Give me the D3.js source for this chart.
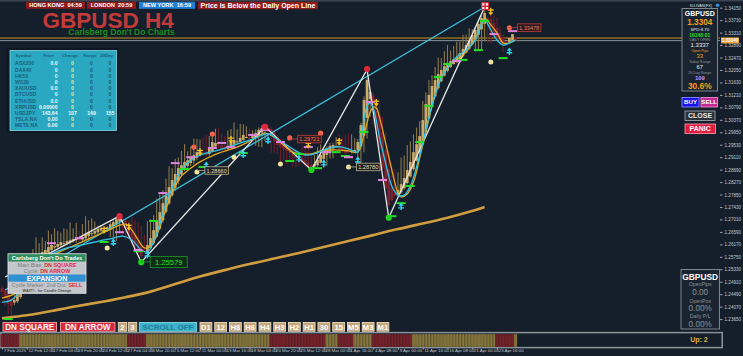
<!DOCTYPE html>
<html><head><meta charset="utf-8">
<script src="https://cdn.jsdelivr.net/npm/d3@7/dist/d3.min.js"></script>
<style>
html,body{margin:0;padding:0;background:#151f2b;overflow:hidden}
svg{display:block}
text{font-family:"Liberation Sans",Arial,sans-serif}
</style></head>
<body><svg id="chart" width="743" height="356"></svg>
<script>
// ---------------- DATA ----------------
const firstOpen = 1.2470;
const closes = [1.2456,1.2436,1.2416,1.2409,1.2429,1.2453,1.2480,1.2503,1.2524,1.2540,
1.2557,1.2571,1.2581,1.2591,1.2598,1.2608,1.2615,1.2611,1.2618,1.2625,
1.2621,1.2628,1.2631,1.2635,1.2638,1.2631,1.2642,1.2652,1.2658,1.2655,
1.2662,1.2669,1.2672,1.2665,1.2675,1.2685,1.2692,1.2702,1.2709,1.2692,
1.2672,1.2652,1.2631,1.2611,1.2591,1.2578,1.2594,1.2615,1.2638,1.2665,
1.2696,1.2726,1.2756,1.2783,1.2810,1.2834,1.2854,1.2874,1.2884,1.2895,
1.2901,1.2908,1.2918,1.2928,1.2935,1.2925,1.2918,1.2942,1.2962,1.2959,
1.2949,1.2938,1.2935,1.2949,1.2962,1.2969,1.2965,1.2976,1.2986,1.2979,
1.2972,1.2982,1.2992,1.3003,1.3009,1.3016,1.3003,1.2982,1.2965,1.2952,
1.2945,1.2938,1.2932,1.2925,1.2915,1.2908,1.2901,1.2895,1.2884,1.2878,
1.2874,1.2888,1.2901,1.2918,1.2932,1.2942,1.2949,1.2952,1.2949,1.2938,
1.2932,1.2925,1.2928,1.2932,1.2935,1.2962,1.3019,1.3104,1.3171,1.3131,
1.3070,1.3009,1.2942,1.2874,1.2807,1.2750,1.2766,1.2780,1.2800,1.2820,
1.2841,1.2868,1.2895,1.2928,1.2955,1.2982,1.3036,1.3090,1.3121,1.3151,
1.3171,1.3191,1.3205,1.3218,1.3229,1.3235,1.3242,1.3249,1.3262,1.3276,
1.3289,1.3306,1.3323,1.3340,1.3360,1.3380,1.3397,1.3374,1.3350,1.3330,
1.3313,1.3299,1.3289,1.3296,1.3313,1.3326,1.3304];
// wick lengths in pips beyond the body
const wickUp = [8,6,4,6,
16,30,40,50,60,36,44,70,40,50,30,56,36,60,44,32,50,40,60,36,52,28,44,60,40,50,32,12,10,8,4,
10,6,8,4,6,8,12,
40,50,60,70,56,80,64,50,76,60,44,56,70,40,52,36,48,60,30,40,56,44,36,50,60,40,32,48,56,40,36,52,44,60,40,48,36,36,30,20,
12,8,10,6,12,8,10,6,8,12,10,6,8,10,6,
36,44,50,40,30,44,36,
8,6,10,8,
30,40,36,50,60,56,40,
10,8,12,6,10,8,12,
40,50,60,56,70,80,60,90,76,84,70,60,56,50,64,40,50,36,44,56,40,50,60,36,44,52,40,48,36,40,20,
8,6,10,8,6,10,
30,36,24,
10];
const wickDn = [20,28,34,30,
9,6,5,8,3,6,9,5,8,12,6,5,9,8,6,5,10,6,8,5,9,6,5,8,12,6,5,8,6,5,8,
30,44,56,40,50,40,18,
5,4,6,3,5,4,3,6,5,4,8,5,6,4,10,12,5,4,6,10,12,8,5,4,3,6,5,4,8,10,6,4,5,3,6,4,5,3,4,5,
30,40,50,36,44,56,40,30,48,36,44,32,40,30,18,
5,4,6,3,4,5,3,
30,36,24,32,
4,3,5,4,3,5,6,
50,60,56,70,60,50,35,
5,4,6,3,5,4,3,6,5,4,3,5,4,6,3,5,4,3,6,5,4,3,5,4,3,6,5,4,3,5,4,
40,50,70,60,80,56,
6,5,8,
24];

const slowIdx = [0,8,16,24,32,40,48,56,64,72,80,88,96,104,112,120,128,136,144,152,156];
const slowVal = [1.2368,1.2377,1.2392,1.2409,1.2422,1.2439,1.2456,1.2483,1.2510,1.2530,1.2551,1.2569,1.2588,1.2608,1.2628,1.2648,1.2669,1.2687,1.2706,1.2729,1.2743];

const cyanIdx = [0,3,6,9,12,15,18,21,24,27,30,33,36,39,42,45,47,49,51,53,55,57,59,62,66,70,73,76,79,82,85,87,89,92,95,98,101,104,107,110,113,115,116,117,118,119,120,122,124,126,128,130,132,134,136,138,140,142,144,147,150,153,155,156,158,160,162,164,166];
const cyanVal = [1.2422,1.2429,1.2463,1.2513,1.2551,1.2578,1.2594,1.2605,1.2611,1.2618,1.2625,1.2632,1.2638,1.2645,1.2632,1.2598,1.2591,1.2625,1.2685,1.2756,1.2807,1.2851,1.2881,1.2908,1.2925,1.2935,1.2945,1.2955,1.2965,1.2976,1.2989,1.2986,1.2972,1.2952,1.2932,1.2918,1.2922,1.2935,1.2945,1.2945,1.2935,1.2928,1.2969,1.3036,1.3084,1.3094,1.3077,1.2979,1.2891,1.2814,1.2783,1.2783,1.2814,1.2878,1.2959,1.3046,1.3121,1.3178,1.3212,1.3249,1.3272,1.3306,1.3360,1.3374,1.3340,1.3306,1.3289,1.3296,1.3306];

const yellowIdx = [0,5,10,15,20,25,30,34,38,40,42,44,46,48,50,52,54,56,58,61,64,67,70,73,76,79,82,85,88,91,94,97,100,103,106,109,112,115,117,119,120,121,122,124,126,128,129,131,133,135,137,139,141,143,146,149,152,154,156,158,160,162,164,166];
const yellowVal = [1.2436,1.2456,1.2524,1.2571,1.2598,1.2621,1.2645,1.2662,1.2682,1.2685,1.2665,1.2632,1.2605,1.2611,1.2648,1.2706,1.2766,1.2814,1.2847,1.2874,1.2895,1.2911,1.2925,1.2935,1.2945,1.2959,1.2976,1.2992,1.2979,1.2952,1.2928,1.2922,1.2922,1.2932,1.2935,1.2935,1.2932,1.2928,1.2986,1.3063,1.3080,1.3077,1.3046,1.2959,1.2868,1.2790,1.2777,1.2787,1.2827,1.2908,1.2996,1.3083,1.3154,1.3198,1.3232,1.3255,1.3293,1.3330,1.3380,1.3357,1.3330,1.3296,1.3296,1.3306];

const zigIdx = [1,38,45,85,100,118,125,156];
const zigVal = [1.2507,1.2713,1.2557,1.3014,1.2868,1.3207,1.2707,1.3417];
const trendIdx = [1,156];
const trendVal = [1.2463,1.3417];

const greenDashes = [[2,1.2365],[33,1.2625],[44,1.2594],[49,1.2696],[59,1.2871],[65,1.2878],[78,1.2925],[93,1.2898],[96,1.2922],[102,1.2874],[108,1.2928],[111,1.2915],[117,1.2996],[123,1.2834],[126,1.2712],[129,1.2756],[132,1.2814],[135,1.2962],[138,1.3083],[141,1.3181],[144,1.3225],[149,1.3239],[154,1.3272],[156,1.3370],[162,1.3245]];
const pinkDashes = [[4,1.2571],[16,1.2621],[25,1.2638],[38,1.2658],[44,1.2598],[52,1.2790],[56,1.2891],[61,1.2911],[68,1.2942],[71,1.2959],[74,1.2945],[81,1.2986],[85,1.3003],[90,1.2962],[99,1.2945],[105,1.2928],[112,1.2911],[119,1.3097],[123,1.2834],[147,1.3235],[159,1.3326],[165,1.3336]];
const salmonDots = [[62,1.2945],[68,1.2989],[93,1.2976],[103,1.2992],[164,1.3347]];
const crimsonDots = [[38,1.2712],[85,1.3013],[118,1.3208]];
const greenDots = [[45,1.2557],[100,1.2868],[125,1.2707]];
const paleDots = [[34,1.2605],[63,1.2861],[75,1.2911],[90,1.2888],[112,1.2878],[158,1.3232]];
const downArrows = [[33,1.2665],[41,1.2675],[64,1.2928],[74,1.2969],[99,1.2952],[109,1.2962],[121,1.3094],[158,1.3401]];
const upArrows = [[36,1.2625],[47,1.2584],[66,1.2884],[78,1.2922],[86,1.2969],[96,1.2908],[104,1.2891],[115,1.2901],[129,1.2746],[164,1.3269]];
const tagIdx = [45,63,93,112,164];
const tagVal = [1.25579,1.28660,1.29721,1.28780,1.33478];
const tagKind = ['low','mid','high','mid','high'];

const askPrice = 1.33127, bidPrice = 1.33040;
const priceTicks = [1.34150,1.33730,1.33310,1.32890,1.32470,1.32050,1.31630,1.31210,1.30790,1.30370,1.29950,1.29530,1.29110,1.28690,1.28270,1.27850,1.27430,1.27010,1.26590,1.26170,1.25750,1.25330,1.24910,1.24490,1.24070,1.23650];
const dateIdx = [0,8,16,24,32,40,48,56,64,72,80,88,96,104,112,120,128,136,144,152,160];
const dateLabels = ["7 Feb 2025","12 Feb 12:00","17 Feb 04:00","19 Feb 20:00","24 Feb 12:00","27 Feb 04:00","3 Mar 20:00","6 Mar 12:00","11 Mar 00:00","13 Mar 16:00","18 Mar 04:00","20 Mar 20:00","25 Mar 12:00","28 Mar 00:00","1 Apr 16:00","4 Apr 08:00","9 Apr 00:00","11 Apr 16:00","16 Apr 08:00","21 Apr 00:00","23 Apr 16:00"];
const stripStart = [0,6,41,47,87,105,109,114,120,133,160,166];
const stripState = ['dn','up','dn','up','dn','up','dn','up','dn','up','dn','up'];

const tableHead = ["Symbol","Price","Change","Range","20Day"];
const tableSym = ["ASX200","DAX40","HK50","WS30","XAUUSD","BTCUSD","ETHUSD","XRPUSD","USDJPY","TSLA.NA","META.NA"];
const tablePrice = ["0.0","0","0","0","0.0","0","0.0","0.00000","143.64","0.00","0.00"];
const tableChange = ["0","0","0","0","0","0","0","0","107","0","0"];
const tableRange = ["0","0","0","0","0","0","0","0","149","0","0"];
const table20 = ["0","0","0","0","0","0","0","0","155","0","0"];

const sessionNames = ["HONG KONG","LONDON","NEW YORK"];
const sessionTimes = ["04:59","20:59","16:59"];
const tfButtons = ["D1","12","H8","H6","H4","H3","H2","H1","30","15","M5","M3","M1"];

// ---------------- DRAW ----------------
const svg = d3.select('#chart');
svg.append('rect').attr('width',743).attr('height',356).attr('fill','#151f2b');
svg.append('rect').attr('width',743).attr('height',1.5).attr('fill','#3a4450');

const x = d3.scaleLinear().domain([0,160]).range([2,497]);
const y = d3.scaleLinear().domain([1.2365,1.3415]).range([319.1,7.7]);

// price axis
const ax = svg.append('g').attr('transform','translate(720,0)')
  .call(d3.axisRight(y).tickValues(priceTicks).tickFormat(d3.format('.5f')).tickSize(2.5).tickPadding(2));
ax.select('.domain').remove();
ax.selectAll('line').attr('stroke','#9aa2aa');
ax.selectAll('text').attr('fill','#c2c8ce').style('font-size','4.6px');

// ask / bid lines
svg.append('line').attr('x1',0).attr('x2',720).attr('y1',y(askPrice)).attr('y2',y(askPrice)).attr('stroke','#c8901e').attr('stroke-width',1);
svg.append('line').attr('x1',0).attr('x2',720).attr('y1',y(bidPrice)).attr('y2',y(bidPrice)).attr('stroke','#8a939c').attr('stroke-width',1);
svg.append('rect').attr('x',721).attr('y',y(bidPrice)-3.2).attr('width',18).attr('height',6).attr('fill','#e8a030');
svg.append('text').attr('x',730).attr('y',y(bidPrice)+1.6).attr('text-anchor','middle').attr('fill','#fff').style('font-size','4.6px').style('font-weight','bold').text(d3.format('.5f')(bidPrice));

// slow MA
const lineGen = (idx,val,curve)=>d3.line().x((d,i)=>x(idx[i])).y(d=>y(d)).curve(curve||d3.curveCatmullRom)(val);
svg.append('path').attr('d',lineGen(slowIdx,slowVal,d3.curveBasis)).attr('fill','none').attr('stroke','#d29d3e').attr('stroke-width',2.6);

// Heikin-Ashi candles
const bars = [];
closes.forEach((c,i)=>{
  const o = i===0 ? firstOpen : (bars[i-1].o + closes[i-1])/2;
  const up = c >= o;
  bars.push({i,o,c,up,hi:Math.max(o,c)+wickUp[i]/1e4,lo:Math.min(o,c)-wickDn[i]/1e4});
});
const cg = svg.append('g');
cg.selectAll('line.w').data(bars).join('line').attr('class','w')
  .attr('x1',d=>x(d.i)).attr('x2',d=>x(d.i)).attr('y1',d=>y(d.hi)).attr('y2',d=>y(d.lo))
  .attr('stroke',d=>d.up?'#8c7747':'#6e1d28').attr('stroke-width',1.1);
cg.selectAll('rect').data(bars).join('rect')
  .attr('x',d=>x(d.i)-1.35).attr('width',2.7)
  .attr('y',d=>y(Math.max(d.o,d.c))).attr('height',d=>Math.max(1,y(Math.min(d.o,d.c))-y(Math.max(d.o,d.c))))
  .attr('fill',d=>d.up?'#c9ab6c':'#7c2230');

// trend line + zigzag
svg.append('path').attr('d',lineGen(trendIdx,trendVal,d3.curveLinear)).attr('fill','none').attr('stroke','#3cc2dc').attr('stroke-width',1.2);
svg.append('path').attr('d',lineGen(zigIdx,zigVal,d3.curveLinear)).attr('fill','none').attr('stroke','#e6e6e6').attr('stroke-width',1.3);
// MAs
svg.append('path').attr('d',lineGen(yellowIdx,yellowVal)).attr('fill','none').attr('stroke','#e0aa1e').attr('stroke-width',1.3);
svg.append('path').attr('d',lineGen(cyanIdx,cyanVal)).attr('fill','none').attr('stroke','#2ec6ea').attr('stroke-width',1.3);

// markers
const mg = svg.append('g');
mg.selectAll('rect.g').data(greenDashes).join('rect').attr('class','g')
  .attr('x',d=>x(d[0])-4.5).attr('y',d=>y(d[1])-1).attr('width',9).attr('height',2).attr('fill','#22e022');
mg.selectAll('rect.p').data(pinkDashes).join('rect').attr('class','p')
  .attr('x',d=>x(d[0])-4.5).attr('y',d=>y(d[1])-1).attr('width',9).attr('height',2).attr('fill','#e083e0');
mg.selectAll('circle.s').data(salmonDots).join('circle').attr('class','s')
  .attr('cx',d=>x(d[0])).attr('cy',d=>y(d[1])).attr('r',2.6).attr('fill','#f0634c');
mg.selectAll('circle.c').data(crimsonDots).join('circle').attr('class','c')
  .attr('cx',d=>x(d[0])).attr('cy',d=>y(d[1])).attr('r',3.1).attr('fill','#e3283c');
mg.selectAll('circle.gd').data(greenDots).join('circle').attr('class','gd')
  .attr('cx',d=>x(d[0])).attr('cy',d=>y(d[1])).attr('r',3.1).attr('fill','#1ed21e');
mg.selectAll('circle.pd').data(paleDots).join('circle').attr('class','pd')
  .attr('cx',d=>x(d[0])).attr('cy',d=>y(d[1])).attr('r',2.5).attr('fill','#f2e2a2');
downArrows.forEach(d=>{
  const cx=x(d[0]), cy=y(d[1]);
  mg.append('path').attr('d',`M${cx},${cy-4}V${cy+1}M${cx-2.8},${cy-1.8}H${cx+2.8}`).attr('stroke','#f2c21e').attr('stroke-width',1.4);
  mg.append('path').attr('d',`M${cx-2.6},${cy+0.3}L${cx+2.6},${cy+0.3}L${cx},${cy+3.6}Z`).attr('fill','#f2c21e');
});
upArrows.forEach(d=>{
  const cx=x(d[0]), cy=y(d[1]);
  mg.append('path').attr('d',`M${cx},${cy+4}V${cy-1}M${cx-2.8},${cy+1.8}H${cx+2.8}`).attr('stroke','#30d2f2').attr('stroke-width',1.4);
  mg.append('path').attr('d',`M${cx-2.6},${cy-0.3}L${cx+2.6},${cy-0.3}L${cx},${cy-3.6}Z`).attr('fill','#30d2f2');
});
// top marker square
{
  const cx=x(156)+0.5, cy=y(1.3415)-1.5;
  mg.append('rect').attr('x',cx-3.5).attr('y',cy-3.5).attr('width',7).attr('height',7).attr('fill','#f4f4f4').attr('stroke','#d8283a').attr('stroke-width',1.2);
  mg.append('path').attr('d',`M${cx},${cy-3}V${cy+3}M${cx-3},${cy}H${cx+3}`).attr('stroke','#d8283a').attr('stroke-width',1.4);
}
// price tags
const tagStyle = {low:{fill:'#0f2a16',stroke:'#1f9a2a',txt:'#26e026',fs:7.6,w:37,h:11,dx:9},
                  mid:{fill:'#1d2226',stroke:'#b8ae86',txt:'#e6dcb0',fs:5.6,w:23.5,h:7.5,dx:8},
                  high:{fill:'#2a1a1e',stroke:'#c43c3c',txt:'#ec7a66',fs:5.6,w:23.5,h:7.5,dx:8}};
tagIdx.forEach((ti,k)=>{
  const s = tagStyle[tagKind[k]];
  const cx = x(ti), cy = y(tagVal[k]);
  svg.append('line').attr('x1',cx).attr('x2',cx+s.dx).attr('y1',cy).attr('y2',cy).attr('stroke',s.stroke).attr('stroke-width',0.8);
  svg.append('rect').attr('x',cx+s.dx).attr('y',cy-s.h/2).attr('width',s.w).attr('height',s.h).attr('fill',s.fill).attr('stroke',s.stroke).attr('stroke-width',0.8);
  svg.append('text').attr('x',cx+s.dx+s.w/2).attr('y',cy+s.fs*0.36).attr('text-anchor','middle').attr('fill',s.txt).style('font-size',s.fs+'px').text(d3.format('.5f')(tagVal[k]));
});

// ---------------- HEADER ----------------
const sessFill = ['#8e1b1b','#8e1b1b','#1f7fd6'];
const sessX = [26,87,139], sessW=[59,49,56];
sessionNames.forEach((n,k)=>{
  svg.append('rect').attr('x',sessX[k]).attr('y',1.8).attr('width',sessW[k]).attr('height',7).attr('fill',sessFill[k]);
  svg.append('text').attr('x',sessX[k]+sessW[k]/2).attr('y',7.4).attr('text-anchor','middle').attr('fill','#fff')
    .style('font-size','5.6px').style('font-weight','bold').attr('xml:space','preserve').text(n+'  '+sessionTimes[k]);
});
svg.append('rect').attr('x',198).attr('y',1.8).attr('width',120).attr('height',7.5).attr('fill','#8e1b1b');
svg.append('text').attr('x',258).attr('y',8).attr('text-anchor','middle').attr('fill','#fff').style('font-size','7px').style('font-weight','bold').text('Price is Below the Daily Open Line');
svg.append('text').attr('x',42.5).attr('y',28.4).attr('fill','#c23a3a').style('font-size','22.5px').style('font-weight','bold').text('GBPUSD H4');
svg.append('text').attr('x',68.3).attr('y',35.2).attr('fill','#1c8c1c').style('font-size','8.5px').style('font-weight','bold').text("Carlsberg Don't Do Charts");

// ---------------- LEFT TABLE ----------------
svg.append('rect').attr('x',6.5).attr('y',48).attr('width',112).attr('height',84.5).attr('fill','#0e1822');
svg.append('rect').attr('x',10).attr('y',50.5).attr('width',106.5).attr('height',80).attr('fill','#2aa8c2').attr('stroke','#86d6e6').attr('stroke-width',0.8);
const colX=[15,57.5,72.5,91.5,110], colAnchor=['start','end','middle','middle','middle'];
tableHead.forEach((h,k)=>svg.append('text').attr('x',[23.5,48.5,70,90,106.5][k]).attr('y',56.8).attr('text-anchor','middle').attr('fill','#1b5f7c').style('font-size','4.4px').style('font-weight','bold').text(h));
tableSym.forEach((s,r)=>{
  const yy = 65.3 + r*6.2;
  const hot = tableChange[r] !== '0';
  [s,tablePrice[r],tableChange[r],tableRange[r],table20[r]].forEach((t,k)=>{
    const col = k===0?'#1b5f7c': k===1?'#eef8fb': k===2?(hot?'#eef8fb':'#f0e68a'): (hot?'#eef8fb':'#1b5a70');
    svg.append('text').attr('x',colX[k]).attr('y',yy).attr('text-anchor',colAnchor[k]).attr('fill',col).style('font-size','5.1px').style('font-weight','bold').text(t);
  });
});

// ---------------- RIGHT INFO PANEL ----------------
const pcx = 699.8;
svg.append('text').attr('x',712).attr('y',7).attr('text-anchor','end').attr('fill','#dfe4e8').style('font-size','3.8px').text('KU.IVAN(FX)');
svg.append('circle').attr('cx',717.5).attr('cy',5.3).attr('r',1.8).attr('fill','#3a8ee0');
svg.append('rect').attr('x',682).attr('y',8.5).attr('width',35.5).attr('height',82.5).attr('fill','#1a2430').attr('stroke','#7d858d').attr('stroke-width',1);
const info = [
  ['GBPUSD',16.3,'#ffffff',7,'bold'],
  ['1.3304',25.4,'#f0a020',8.2,'bold'],
  ['SPD:8.70',31.1,'#e8ecef',4.4,'normal'],
  ['16148:01',36.6,'#22e022',5,'bold'],
  ['DAILY OPEN',41,'#8c949c',3.5,'normal'],
  ['1.3337',47.3,'#e8ecef',6,'normal'],
  ['Open Pips',52,'#e8a020',3.6,'normal'],
  ['33',58.2,'#f0a020',5.8,'normal'],
  ['Today Range',62.8,'#8c949c',3.6,'normal'],
  ['67',68.9,'#e8ecef',5.8,'normal'],
  ['20 Day Range',73.5,'#8c949c',3.6,'normal'],
  ['109',79.7,'#d68cf2',5.8,'bold'],
  ['30.6%',88.5,'#f0a020',8.4,'bold']];
info.forEach(t=>svg.append('text').attr('x',pcx).attr('y',t[1]).attr('text-anchor','middle').attr('fill',t[2])
  .style('font-size',t[3]+'px').style('font-weight',t[4]).text(t[0]));
function btn(xx,yy,w,h,fill,stroke,txt,tcol,fs){
  svg.append('rect').attr('x',xx).attr('y',yy).attr('width',w).attr('height',h).attr('fill',fill).attr('stroke',stroke).attr('stroke-width',0.9);
  svg.append('text').attr('x',xx+w/2).attr('y',yy+h/2+fs*0.36).attr('text-anchor','middle').attr('fill',tcol).style('font-size',fs+'px').style('font-weight','bold').text(txt);
}
btn(682,97.5,17,9.5,'#1c12e6','#7f8cff','BUY','#fff',6.2);
btn(701,97.5,16.5,9.5,'#c42894','#f08ad0','SELL','#fff',6.2);
btn(685,111,30,9.5,'#2a3139','#9aa2aa','CLOSE','#e6e9ec',7);
btn(685,124,30.5,9.5,'#e21e40','#f58ea0','PANIC','#fff',7);

// ---------------- BOTTOM RIGHT PANEL ----------------
svg.append('rect').attr('x',681).attr('y',269.5).attr('width',38.5).attr('height',59.5).attr('fill','#1a2430').attr('stroke','#7d858d').attr('stroke-width',1);
[['GBPUSD',279.6,'#ffffff','8.4px','bold'],['OpenPips',286,'#8a9299','5.2px','normal'],['0.00',295,'#8a9299','8.2px','normal'],
 ['OpenPos',302.6,'#8a9299','5.2px','normal'],['0.00%',310.6,'#8a9299','8.2px','normal'],['Daily P/L',318.3,'#8a9299','5.2px','normal'],['0.00%',326.6,'#8a9299','8.2px','normal']]
 .forEach(t=>svg.append('text').attr('x',700.2).attr('y',t[1]).attr('text-anchor','middle').attr('fill',t[2]).style('font-size',t[3]).style('font-weight',t[4]).text(t[0]));

// ---------------- BOTTOM LEFT PANEL ----------------
svg.append('rect').attr('x',8).attr('y',253.8).attr('width',78).attr('height',39.5).attr('fill','#c3c7cb').attr('stroke','#e8eaec').attr('stroke-width',0.8);
svg.append('rect').attr('x',8.4).attr('y',254.2).attr('width',77.2).attr('height',7.3).attr('fill','#2b8c5c');
svg.append('text').attr('x',47).attr('y',259.9).attr('text-anchor','middle').attr('fill','#fff').style('font-size','5.6px').style('font-weight','bold').text("Carlsberg Don't Do Trades");
function rowTxt(yy,a,b,bcol){
  const t = svg.append('text').attr('x',47).attr('y',yy).attr('text-anchor','middle').style('font-size','5.4px');
  t.append('tspan').attr('fill','#747a80').text(a);
  t.append('tspan').attr('fill',bcol).style('font-weight','bold').text(b);
}
rowTxt(267.3,'Main Bias: ','DN SQUARE','#e2283a');
rowTxt(273.2,'Cycle: ','DN ARROW','#e2283a');
svg.append('rect').attr('x',8.4).attr('y',274.5).attr('width',77.2).attr('height',7.2).attr('fill','#2f90d2');
svg.append('text').attr('x',47).attr('y',280.6).attr('text-anchor','middle').attr('fill','#fff').style('font-size','7px').style('font-weight','bold').text('EXPANSION');
rowTxt(287,'Cycle Marker: 2nd Dot: ','SELL','#e2283a');
svg.append('text').attr('x',47).attr('y',291.8).attr('text-anchor','middle').attr('fill','#4a4e52').style('font-size','3.8px').style('font-weight','bold').text('WAIT!!.. for Candle Change');

// ---------------- BUTTON ROW ----------------
btn(3,322.5,53.5,8.8,'#d8283c','#f7a0ac','DN SQUARE','#fff',8.2);
btn(60.5,322.5,54.5,8.8,'#d8283c','#f7a0ac','DN ARROW','#fff',8.2);
btn(118.3,322.5,8.4,8.8,'#c6a679','#e8dac0','2','#fff',8);
btn(128.3,322.5,8.4,8.8,'#c6a679','#e8dac0','3','#fff',8);
btn(139.3,322.5,57.4,8.8,'#3cb2ca','#86dbe9','SCROLL OFF','#1f7f97',8);
tfButtons.forEach((b,k)=>btn(200+k*14.75,322.5,11.8,8.8,'#c6a679','#e8dac0',b,'#fff',7.6));

// ---------------- TREND STRIP ----------------
svg.append('rect').attr('x',0.75).attr('y',332.6).attr('width',721.5).attr('height',15).attr('fill','#151f2b').attr('stroke','#8b9299').attr('stroke-width',1.5);
const stripBars = closes.map((c,i)=>{ let s='up'; stripStart.forEach((st,k)=>{ if(i>=st) s=stripState[k]; }); return {i,s}; });
svg.append('g').selectAll('rect').data(stripBars).join('rect')
  .attr('x',d=>x(d.i)-1.55).attr('width',3.1).attr('y',334.2).attr('height',12.6)
  .attr('fill',d=>d.s==='up'?'#7a6a35':'#6c1f27');
svg.append('g').selectAll('line').data(stripBars).join('line')
  .attr('x1',d=>x(d.i)+0.6).attr('x2',d=>x(d.i)+0.6).attr('y1',334.2).attr('y2',346.8)
  .attr('stroke',d=>d.s==='up'?'#8c7c44':'#7a2730').attr('stroke-width',0.8);
svg.append('text').attr('x',699).attr('y',342.4).attr('text-anchor','middle').attr('fill','#e2b040').style('font-size','7px').style('font-weight','bold').text('Up: 2');

// ---------------- DATE AXIS ----------------
const bx = svg.append('g').attr('transform','translate(0,347.6)')
  .call(d3.axisBottom(x).tickValues(dateIdx).tickFormat((d,i)=>dateLabels[i]).tickSize(2).tickSizeOuter(0));
bx.select('.domain').remove();
bx.selectAll('line').attr('stroke','#9aa2aa');
bx.selectAll('text').attr('text-anchor','start').attr('x',1.2).attr('y',1.2).attr('dy','0.75em').attr('fill','#c2c8ce').style('font-size','4.4px');
</script>
</body></html>
